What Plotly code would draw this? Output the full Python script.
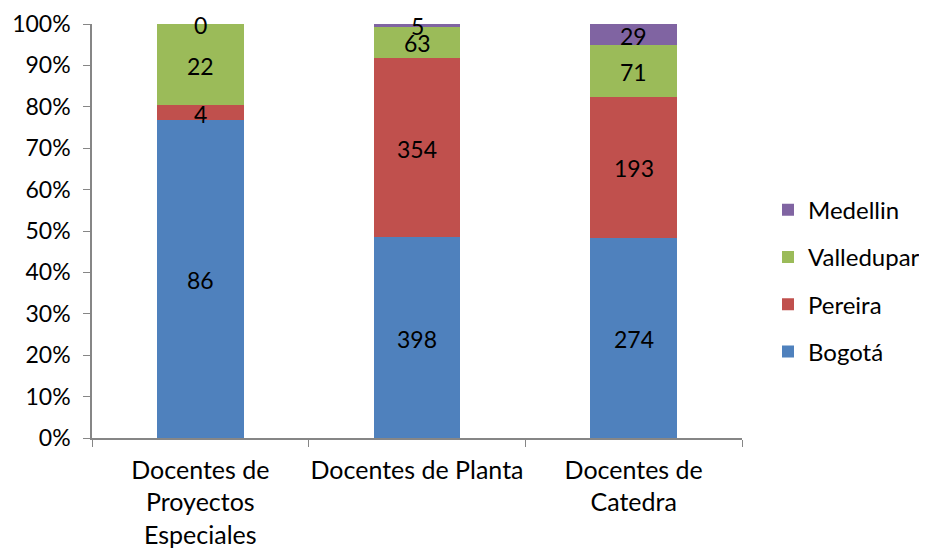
import plotly.graph_objects as go

categories = ["Docentes de<br>Proyectos<br>Especiales", "Docentes de Planta", "Docentes de<br>Catedra"]
series_names = ["Bogotá", "Pereira", "Valledupar", "Medellin"]
bogota = [86, 398, 274]
pereira = [4, 354, 193]
valledupar = [22, 63, 71]
medellin = [0, 5, 29]
colors = ["#4F81BD", "#C0504D", "#9BBB59", "#8064A2"]

series = [bogota, pereira, valledupar, medellin]
totals = [sum(v) for v in zip(*series)]

FONT = "Lato"
FS = 23
fig = go.Figure()
n = len(series_names)
for i, (name, vals, col) in enumerate(zip(series_names, series, colors)):
    fig.add_trace(go.Bar(
        x=categories, y=vals, name=name, marker=dict(color=col, line=dict(width=0)),
        width=0.4, legendgroup=name, legendrank=n - i, hoverinfo="skip",
    ))

# data labels at segment centres (derived from the data)
cum = [0.0] * len(categories)
for vals in series:
    for j, v in enumerate(vals):
        pct = 100.0 * v / totals[j]
        fig.add_annotation(x=categories[j], y=cum[j] + pct / 2, text=str(v),
                           showarrow=False, yshift=-1,
                           font=dict(family=FONT, size=FS, color="black"))
        cum[j] += pct

fig.update_layout(
    width=919, height=542, barmode="stack", barnorm="percent",
    paper_bgcolor="white", plot_bgcolor="white",
    margin=dict(l=84, r=185, t=16, b=112, autoexpand=False),
    font=dict(family=FONT, size=FS, color="black"),
    legend=dict(traceorder="grouped", tracegroupgap=13, x=1.04, y=0.38,
                xanchor="left", yanchor="middle", font=dict(size=24),
                itemwidth=30),
    showlegend=True,
)
fig.update_yaxes(range=[0, 100], tickvals=list(range(0, 101, 10)),
                 ticktext=[f"{v}%" for v in range(0, 101, 10)],
                 showgrid=False, zeroline=False, showline=True, linecolor="#868686",
                 linewidth=1.5, ticks="outside", ticklen=7, tickcolor="#868686",
                 ticklabelstandoff=8, automargin=False)
fig.update_xaxes(showgrid=False, showline=True, linecolor="#868686", linewidth=1.5,
                 ticks="outside", ticklen=7, tickcolor="#868686", tickson="boundaries",
                 tickangle=0, ticklabelstandoff=9, automargin=False,
                 tickfont=dict(size=25))

fig.write_html("out.html")
